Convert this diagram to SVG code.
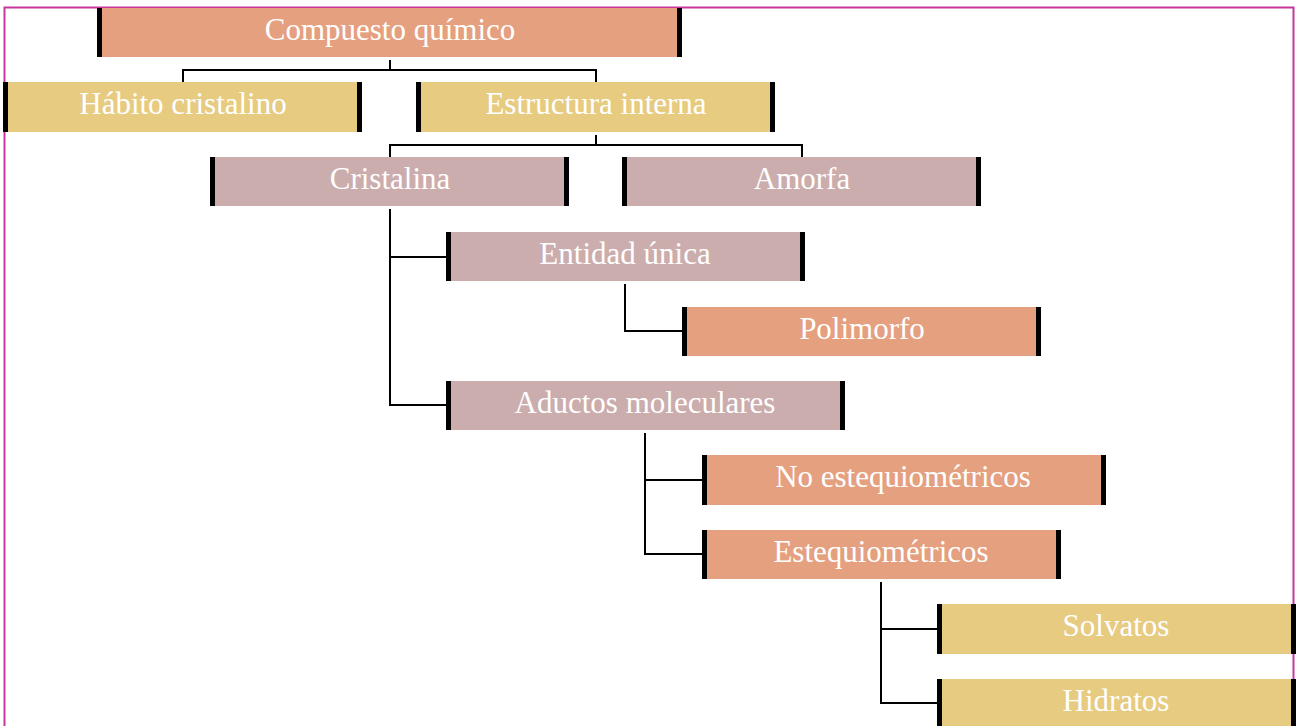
<svg xmlns="http://www.w3.org/2000/svg" width="1296" height="726" viewBox="0 0 1296 726">
<style>
.box{stroke:none}
.s{fill:#E5A07F}
.y{fill:#E6CB81}
.m{fill:#CBADAD}
.bar{fill:#000}
.t{font-family:"Liberation Serif",serif;font-size:31px;fill:#fff;text-anchor:middle}
.c{fill:none;stroke:#000;stroke-width:2}
</style>
<rect x="0" y="0" width="1296" height="726" fill="#fff"/>
<path d="M4.5,726 V7.5 H1293.5 V726" fill="none" stroke="#C8369C" stroke-width="2"/>
<g id="connectors">
<path class="c" d="M390,60 V70 M183,82 V70 H596 V82"/>
<path class="c" d="M596,135 V145 M390,157 V145 H802 V157"/>
<path class="c" d="M390,209 V405 H446 M390,257 H446"/>
<path class="c" d="M625,284 V331 H682"/>
<path class="c" d="M645,433 V554 H702 M645,480 H702"/>
<path class="c" d="M881,582 V703 H937 M881,629 H937"/>
</g>
<g id="n1"><rect class="box s" x="97" y="8" width="585" height="49"/><rect class="bar" x="97" y="8" width="5" height="49"/><rect class="bar" x="677" y="8" width="5" height="49"/><text class="t" x="390" y="40">Compuesto químico</text></g>
<g id="n2"><rect class="box y" x="3" y="82" width="359" height="50"/><rect class="bar" x="3" y="82" width="5" height="50"/><rect class="bar" x="357" y="82" width="5" height="50"/><text class="t" x="183" y="114">Hábito cristalino</text></g>
<g id="n3"><rect class="box y" x="416" y="82" width="359" height="50"/><rect class="bar" x="416" y="82" width="5" height="50"/><rect class="bar" x="770" y="82" width="5" height="50"/><text class="t" x="596" y="114">Estructura interna</text></g>
<g id="n4"><rect class="box m" x="210" y="157" width="359" height="49"/><rect class="bar" x="210" y="157" width="5" height="49"/><rect class="bar" x="564" y="157" width="5" height="49"/><text class="t" x="390" y="189">Cristalina</text></g>
<g id="n5"><rect class="box m" x="622" y="157" width="359" height="49"/><rect class="bar" x="622" y="157" width="5" height="49"/><rect class="bar" x="976" y="157" width="5" height="49"/><text class="t" x="802" y="189">Amorfa</text></g>
<g id="n6"><rect class="box m" x="446" y="232" width="359" height="49"/><rect class="bar" x="446" y="232" width="5" height="49"/><rect class="bar" x="800" y="232" width="5" height="49"/><text class="t" x="625" y="264">Entidad única</text></g>
<g id="n7"><rect class="box s" x="682" y="307" width="359" height="49"/><rect class="bar" x="682" y="307" width="5" height="49"/><rect class="bar" x="1036" y="307" width="5" height="49"/><text class="t" x="862" y="339">Polimorfo</text></g>
<g id="n8"><rect class="box m" x="446" y="381" width="399" height="49"/><rect class="bar" x="446" y="381" width="5" height="49"/><rect class="bar" x="840" y="381" width="5" height="49"/><text class="t" x="645" y="413">Aductos moleculares</text></g>
<g id="n9"><rect class="box s" x="702" y="455" width="404" height="50"/><rect class="bar" x="702" y="455" width="5" height="50"/><rect class="bar" x="1101" y="455" width="5" height="50"/><text class="t" x="903" y="487">No estequiométricos</text></g>
<g id="n10"><rect class="box s" x="702" y="530" width="359" height="49"/><rect class="bar" x="702" y="530" width="5" height="49"/><rect class="bar" x="1056" y="530" width="5" height="49"/><text class="t" x="881" y="562">Estequiométricos</text></g>
<g id="n11"><rect class="box y" x="937" y="604" width="359" height="50"/><rect class="bar" x="937" y="604" width="5" height="50"/><rect class="bar" x="1291" y="604" width="5" height="50"/><text class="t" x="1116" y="636">Solvatos</text></g>
<g id="n12"><rect class="box y" x="937" y="679" width="359" height="50"/><rect class="bar" x="937" y="679" width="5" height="50"/><rect class="bar" x="1291" y="679" width="5" height="50"/><text class="t" x="1116" y="711">Hidratos</text></g>
</svg>
